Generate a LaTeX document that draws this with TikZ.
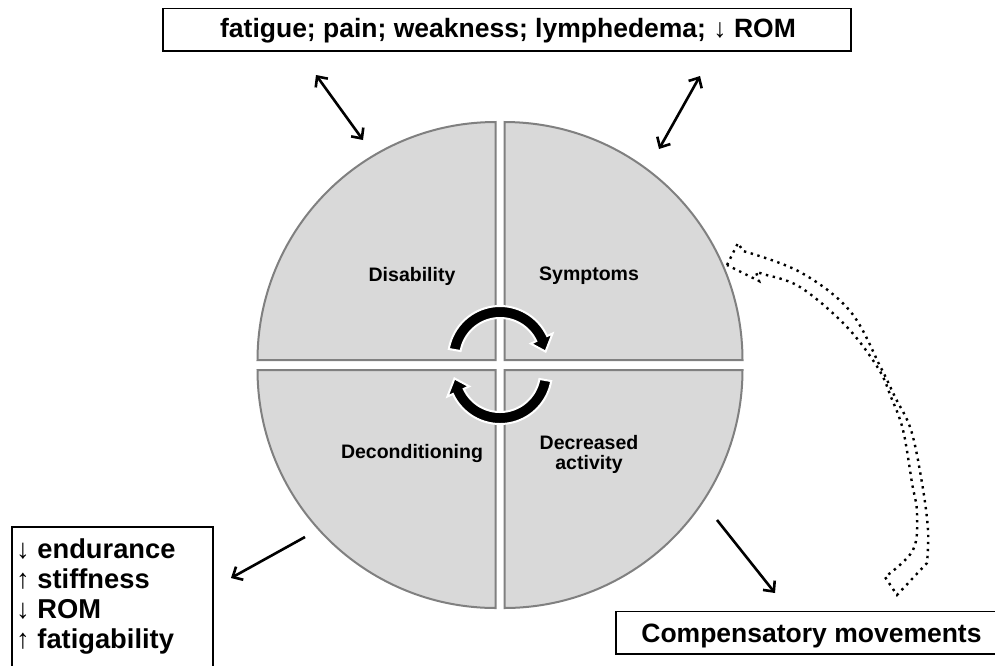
\documentclass[tikz,border=0pt]{standalone}
\usepackage{fontspec}
\setmainfont{Liberation Sans}
\usetikzlibrary{arrows.meta}
\definecolor{quadfill}{HTML}{D9D9D9}
\definecolor{quadline}{HTML}{808080}
\begin{document}
\begin{tikzpicture}[x=1pt,y=-1pt,
  quad/.style={fill=quadfill, draw=quadline, line width=2pt},
  qlabel/.style={font=\fontsize{19.5}{20}\selectfont\bfseries, align=center, inner sep=0pt},
  boxline/.style={draw=black, line width=1.4pt},
  boxtext/.style={font=\fontsize{26.5}{30}\selectfont\bfseries, inner sep=0pt},
  listtext/.style={font=\fontsize{27.3}{30}\selectfont\bfseries, inner sep=0pt, anchor=base west},
  conn/.style={line width=2.6pt, draw=black},
  tip/.style={-{Straight Barb[length=8pt,width=15pt]}},
  dtip/.style={{Straight Barb[length=8pt,width=15pt]}-{Straight Barb[length=8pt,width=15pt]}},
  cyc/.style={fill=black, draw=white, line width=2pt, line join=miter},
  dots/.style={draw=black, line width=2.4pt, dash pattern=on 2.4pt off 4.6pt}
]
\clip (0,0) rectangle (995,665);
\fill[white] (0,0) rectangle (995,665);

% quadrants
\path[quad] (495.5,360) -- plot[domain=180:270,samples=70] ({495.5+238*cos(\x)},{360+238*sin(\x)}) -- cycle;
\path[quad] (504.5,360) -- plot[domain=270:360,samples=70] ({504.5+238*cos(\x)},{360+238*sin(\x)}) -- cycle;
\path[quad] (504.5,370) -- plot[domain=0:90,samples=70] ({504.5+238*cos(\x)},{370+238*sin(\x)}) -- cycle;
\path[quad] (495.5,370) -- plot[domain=90:180,samples=70] ({495.5+238*cos(\x)},{370+238*sin(\x)}) -- cycle;

% quadrant labels
\node[qlabel] (dis) at (412,276) {Disability};
\node[qlabel] (sym) at (589,276) {Symptoms};
\node[qlabel] (dec) at (412,453) {Deconditioning};
\node[qlabel] (act) at (589,454) {Decreased\\activity};

% cycle arrows
\path[cyc] plot[domain=190:335,samples=50] ({500+52*cos(\x)},{358+52*sin(\x)})
  -- ({500+58*cos(335)},{358+58*sin(335)})
  -- ({500+46*cos(352)},{358+46*sin(352)})
  -- ({500+34*cos(335)},{358+34*sin(335)})
  -- plot[domain=335:190,samples=50] ({500+40*cos(\x)},{358+40*sin(\x)}) -- cycle;
\path[cyc] plot[domain=10:155,samples=50] ({500+52*cos(\x)},{372+52*sin(\x)})
  -- ({500+58*cos(155)},{372+58*sin(155)})
  -- ({500+46*cos(172)},{372+46*sin(172)})
  -- ({500+34*cos(155)},{372+34*sin(155)})
  -- plot[domain=155:10,samples=50] ({500+40*cos(\x)},{372+40*sin(\x)}) -- cycle;

% top box
\node[boxline, minimum width=688pt, minimum height=42.5pt, inner sep=0pt] (topbox) at (507,29.75) {};
\node[boxtext, anchor=base] (toptext) at (508,37.3) {fatigue; pain; weakness; lymphedema; {\mdseries ↓} ROM};

% left box
\path[boxline] (12,527) rectangle (213,700);
\node[listtext] (l1) at (16,558) {{\mdseries ↓} endurance};
\node[listtext] (l2) at (16,588) {{\mdseries ↑} stiffness};
\node[listtext] (l3) at (16,618) {{\mdseries ↓} ROM};
\node[listtext] (l4) at (16,648) {{\mdseries ↑} fatigability};

% compensatory box
\path[boxline] (616,611.5) rectangle (1005,654);
\node[boxtext, anchor=base] (comp) at (811.5,642.7) {Compensatory movements};

% connector end points
\coordinate (a1) at (316,75);  \coordinate (a2) at (363,140);
\coordinate (b1) at (700,76);  \coordinate (b2) at (659,149);
\coordinate (c1) at (305,537); \coordinate (c2) at (231,578);
\coordinate (d1) at (717,520); \coordinate (d2) at (775,593);
\draw[conn,dtip] (a1) -- (a2);
\draw[conn,dtip] (b1) -- (b2);
\draw[conn,tip] (c1) -- (c2);
\draw[conn,tip] (d1) -- (d2);

% dotted curved arrow
\draw[dots] (727,265) -- (738,243) -- plot[smooth, tension=0.6] coordinates {(743,251) (800,272) (850,311) (881,368) (895,397) (911,430) (922,483) (928,530) (927,563)}
  -- (897,595) -- plot[smooth, tension=0.6] coordinates {(885,577) (913,550) (917,513) (912,483) (903,430) (891,397) (878,368) (846,326) (800,287) (763,274) (756,272)}
  -- (759,281) -- cycle;
\end{tikzpicture}
\end{document}
